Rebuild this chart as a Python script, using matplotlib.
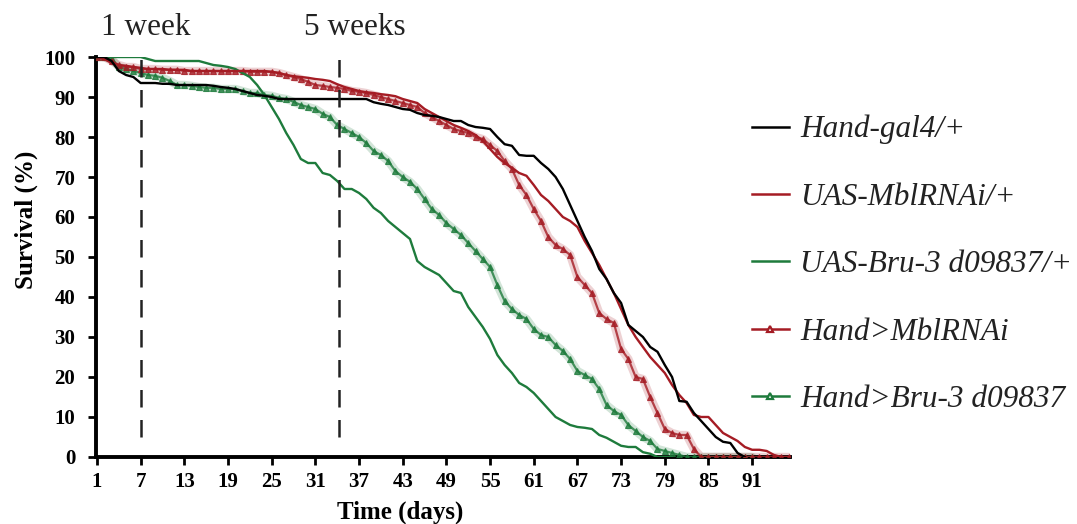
import matplotlib
matplotlib.use("Agg")
import matplotlib.pyplot as plt
from matplotlib.lines import Line2D

plt.rcParams['font.family'] = ['Liberation Serif', 'DejaVu Serif']

# survival (%) per day
hand_gal4 = [100, 100, 99, 96.5, 95.5, 95, 93.5, 93.5, 93.5, 93.3, 93.3, 93, 93, 93, 93, 93,
             92.8, 92.5, 92.3, 92, 91.5, 91, 90.5, 90.3, 90, 89.5, 89.5, 89.5, 89.5, 89.5,
             89.5, 89.5, 89.5, 89.5, 89.5, 89.5, 89.5, 89.5, 88.7, 88.3, 88, 87.5, 87, 86.8,
             86, 85.5, 85.3, 85, 84.5, 84, 84, 83, 82.5, 82.3, 82, 80, 78.2, 77.8, 75.5, 75.3,
             75.3, 73.5, 72, 70, 67, 63, 59, 55, 51.5, 47, 44.5, 41, 38.5, 33, 31.5, 30, 27.5,
             26.3, 23, 20, 14, 13.8, 11, 9, 7, 5, 3.8, 3.5, 1, 0]

uas_mbl = [100, 99.5, 98.5, 98, 97.8, 97.5, 97.3, 97, 97, 97, 96.8, 96.8, 96.8, 96.5, 96.5,
           96.5, 96.5, 96.5, 96.5, 96.5, 96.5, 96.5, 96.5, 96.5, 96.3, 96, 95.5, 95.2, 95,
           94.8, 94.5, 94.3, 94, 93.2, 92.5, 92, 91.5, 91.2, 91, 90.7, 90.5, 90.2, 89.5, 89,
           88.5, 87, 86, 85, 84, 83, 82.3, 81.5, 80.5, 79, 77, 75, 73.5, 72.3, 71, 70.3, 68,
           65.5, 64, 62, 60, 59, 57.5, 54, 51, 48, 44.5, 41, 37, 33, 30, 27.5, 25, 23, 21, 18,
           15.5, 13.5, 10.5, 10, 10, 8, 6, 5, 4, 2.5, 1.8, 1.8, 1.5, 0.5, 0, 0]

uas_bru3 = [100, 100, 100, 100, 100, 100, 100, 99.5, 99, 99, 99, 99, 99, 99, 99, 98.5, 98,
            97.8, 97.5, 97, 96, 95, 93, 90.5, 87.5, 84.5, 81, 78, 74.5, 73.5, 73.5, 71, 70.5,
            69, 67, 67, 66, 64.5, 62.3, 61, 59, 57.5, 56, 54.5, 49, 47.5, 46.5, 45.5, 43.5,
            41.5, 41, 37.5, 35, 32.5, 29.5, 25.5, 23, 21, 18.5, 17.5, 16, 14, 12, 10, 9, 8,
            7.5, 7.3, 7, 5.5, 4.8, 3.8, 2.8, 2.5, 2.5, 1.2, 0.8, 0, 0, 0]

hand_mbl = [100, 100, 99, 98, 97.5, 97.5, 97, 97, 97, 96.8, 96.8, 96.8, 96.5, 96.5, 96.5,
            96.5, 96.5, 96.5, 96.5, 96.5, 96.5, 96.3, 96.3, 96.3, 96.3, 96, 95.5, 95, 94.5,
            93.8, 93, 92.8, 92.5, 92.3, 92, 91.5, 91.3, 91, 90.5, 90, 89.5, 89, 88.5, 88, 87.5,
            86, 85, 84, 83, 82, 81.5, 81, 80, 79.5, 78, 76.5, 74, 72, 68, 65.5, 62, 59, 55, 53,
            52, 50.5, 45, 43, 41, 36, 34.5, 33.5, 27, 24.5, 20, 19.5, 15, 11, 7, 6, 5.5, 5.5,
            2, 0, 0, 0, 0, 0, 0, 0, 0, 0, 0, 0, 0, 0]

hand_bru3 = [100, 100, 99.5, 97.5, 97, 96.5, 96, 95.5, 95.3, 94.8, 94, 93, 93, 92.8, 92.5,
             92.3, 92.3, 92, 92, 92, 91.5, 91, 91, 90.5, 90.3, 89.8, 89.5, 88.8, 88, 87.5, 87,
             85.8, 85, 83, 82, 81, 80, 78.5, 76.5, 75.5, 74, 71.5, 70, 68.8, 67, 64.5, 62,
             60.5, 58.5, 57, 55.5, 53.5, 51.5, 49.5, 47.5, 43, 39, 37, 35.5, 34.5, 32, 30.5,
             30, 28, 26.5, 24.5, 21.5, 20.5, 19.5, 17, 13, 11.5, 10.5, 8, 6.5, 5, 4, 2, 1.5, 1,
             0.5, 0, 0, 0, 0, 0, 0, 0, 0, 0, 0]

labels = ["Hand-gal4/+", "UAS-MblRNAi/+", "UAS-Bru-3 d09837/+",
          "Hand>MblRNAi", "Hand>Bru-3 d09837"]
x_ticks = list(range(1, 92, 6))
y_ticks = list(range(0, 101, 10))
week_marks = [7, 34.3]
week_labels = ["1 week", "5 weeks"]

RED = "#a51c24"
GREEN = "#1e7b3c"

fig = plt.figure(figsize=(10.77, 5.24), dpi=100)
ax = fig.add_axes([0.0891, 0.1279, 0.6444, 0.7633])


def days(vals):
    return list(range(1, len(vals) + 1))


# marker series: soft glow underneath, then triangles
for vals, col in [(hand_bru3, GREEN), (hand_mbl, RED)]:
    ax.plot(days(vals), vals, color=col, lw=6, alpha=0.2, solid_capstyle='round', zorder=2)
    ax.plot(days(vals), vals, color=col, lw=1.6, marker='^', ms=4.5, mec=col, mfc=col,
            mew=0.8, alpha=0.8, zorder=3)

ax.plot(days(uas_bru3), uas_bru3, color=GREEN, lw=1.7, zorder=4)
ax.plot(days(uas_mbl), uas_mbl, color=RED, lw=1.7, zorder=4)
ax.plot(days(hand_gal4), hand_gal4, color="black", lw=1.7, zorder=5)

# week markers, labels sit a bit right of the dashed line
for d, txt, off in zip(week_marks, week_labels, [0.7, 2.1]):
    ax.plot([d, d], [5, 102], color="#222222", lw=1.8, ls=(0, (7, 5)), clip_on=False, zorder=6)
    ax.text(d + off, 107.5, txt, ha='center', va='center', fontsize=22.5,
            color="#222222", clip_on=False)

ax.set_xlim(0.86, 96.2)
ax.set_ylim(0, 100)
ax.set_xticks(x_ticks)
ax.set_yticks(y_ticks)
ax.tick_params(axis='both', direction='out', width=2, length=6, labelsize=15)
ax.tick_params(axis='y', pad=9)
ax.tick_params(axis='x', pad=5)
for lab in ax.get_xticklabels() + ax.get_yticklabels():
    lab.set_fontweight('bold')
for s in ['top', 'right']:
    ax.spines[s].set_visible(False)
for s in ['left', 'bottom']:
    ax.spines[s].set_linewidth(2.8)

ax.set_xlabel("Time (days)", fontsize=18, fontweight='bold')
ax.set_ylabel("Survival (%)", fontsize=18, fontweight='bold')
ax.xaxis.set_label_coords(0.438, -0.108)
ax.yaxis.set_label_coords(-0.084, 0.5925)

handles = [
    Line2D([], [], color="black", lw=1.8),
    Line2D([], [], color=RED, lw=1.8),
    Line2D([], [], color=GREEN, lw=1.8),
    Line2D([], [], color=RED, lw=1.8, marker='^', ms=5, mfc='white', mec=RED, mew=1.6),
    Line2D([], [], color=GREEN, lw=1.8, marker='^', ms=5, mfc='white', mec=GREEN, mew=1.6),
]
leg = fig.legend(handles, labels, loc='center left', bbox_to_anchor=(0.698, 0.495),
                 frameon=False, borderaxespad=0, borderpad=0, handlelength=1.2,
                 handletextpad=0.35, labelspacing=1.23, numpoints=1,
                 prop={'family': 'Liberation Serif', 'style': 'italic', 'size': 22.5})
for t in leg.get_texts():
    t.set_color("#222222")

fig.savefig("out.png", dpi=100)
